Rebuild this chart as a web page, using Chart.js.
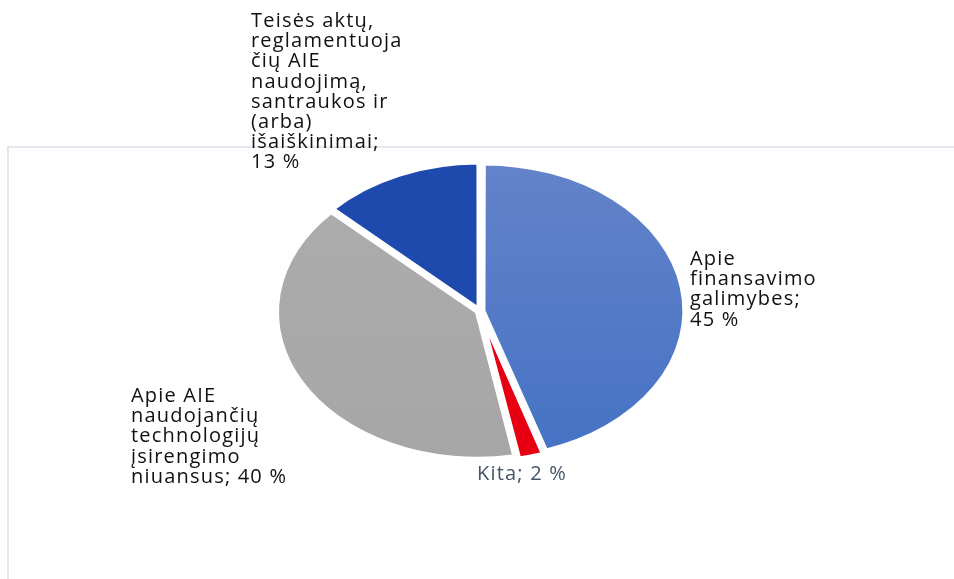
<!DOCTYPE html>
<html>
<head>
<meta charset="utf-8">
<script src="https://cdn.jsdelivr.net/npm/chart.js@4.4.1/dist/chart.umd.min.js"></script>
<style>
  html, body { margin: 0; padding: 0; background: #fff; }
  #wrap { position: relative; width: 954px; height: 579px; overflow: hidden; }
  #frame { position: absolute; left: 7px; top: 146px; width: 960px; height: 500px;
           border-left: 2px solid #e3e7ee; border-top: 2px solid #e3e7ee; }
  #pie { position: absolute; left: 0; top: 0; }
</style>
</head>
<body>
<div id="wrap">
  <div id="frame"></div>
  <canvas id="pie" width="954" height="579"></canvas>
</div>
<script>
// duomenys
const kategorijos = [
  ["Apie", "finansavimo", "galimybes;", "45 %"],
  ["Kita; 2 %"],
  ["Apie AIE", "naudojančių", "technologijų", "įsirengimo", "niuansus; 40 %"],
  ["Teisės aktų,", "reglamentuoja", "čių AIE", "naudojimą,", "santraukos ir", "(arba)", "išaiškinimai;", "13 %"]
];
const reiksmes = [45, 2, 40, 13];
const spalvos = ["#4472c4", "#e60012", "#a9a9a9", "#1f4aad"];

// etikeciu vieta nuo centro (x, pirmos eilutes baseline)
const etiketes = [
  { dx: 210, dy: -46, spalva: "#111" },
  { dx: -3, dy: 169, spalva: "#44546a" },
  { dx: -349, dy: 91, spalva: "#111" },
  { dx: -229, dy: -284, spalva: "#111" }
];

const SX = 1.37; // pyrago istempimas horizontaliai

const elipse = {
  id: 'elipse',
  beforeDatasetsDraw(chart) {
    const a = chart.getDatasetMeta(0).data[0];
    const ctx = chart.ctx;
    ctx.save();
    ctx.translate(a.x, a.y);
    ctx.scale(SX, 1);
    ctx.translate(-a.x, -a.y);
  },
  afterDatasetsDraw(chart) {
    chart.ctx.restore();
  }
};

const uzrasai = {
  id: 'uzrasai',
  afterDraw(chart) {
    const ctx = chart.ctx;
    const a = chart.getDatasetMeta(0).data[0];
    ctx.save();
    ctx.font = '20px "Open Sans", sans-serif';
    ctx.letterSpacing = '1.2px';
    ctx.textAlign = 'left';
    ctx.textBaseline = 'alphabetic';
    kategorijos.forEach((eil, i) => {
      const e = etiketes[i];
      ctx.fillStyle = e.spalva;
      eil.forEach((t, j) => {
        ctx.fillText(t, a.x + e.dx, a.y + e.dy + j * 20.2);
      });
    });
    ctx.restore();
  }
};

function spalva(c) {
  const i = c.dataIndex;
  const chart = c.chart;
  if (!chart.chartArea) return spalvos[i];
  if (i === 0 || i === 2) {
    const top = chart.chartArea.top + 110, bot = chart.chartArea.bottom - 110;
    const g = chart.ctx.createLinearGradient(0, top, 0, bot);
    if (i === 0) { g.addColorStop(0, '#6483ca'); g.addColorStop(1, '#4472c4'); }
    else { g.addColorStop(0, '#adadad'); g.addColorStop(1, '#a6a6a6'); }
    return g;
  }
  return spalvos[i];
}

new Chart(document.getElementById('pie'), {
  type: 'pie',
  data: {
    labels: kategorijos.map(k => k.join(' ')),
    datasets: [{
      data: reiksmes,
      backgroundColor: spalva,
      borderColor: '#ffffff',
      borderWidth: 3,
      offset: 10,
      radius: 145
    }]
  },
  options: {
    responsive: false,
    animation: false,
    radius: 145,
    layout: { padding: { left: 6, right: 0, top: 43, bottom: 0 } },
    plugins: { legend: { display: false }, tooltip: { enabled: false } }
  },
  plugins: [elipse, uzrasai]
});
</script>
</body>
</html>
